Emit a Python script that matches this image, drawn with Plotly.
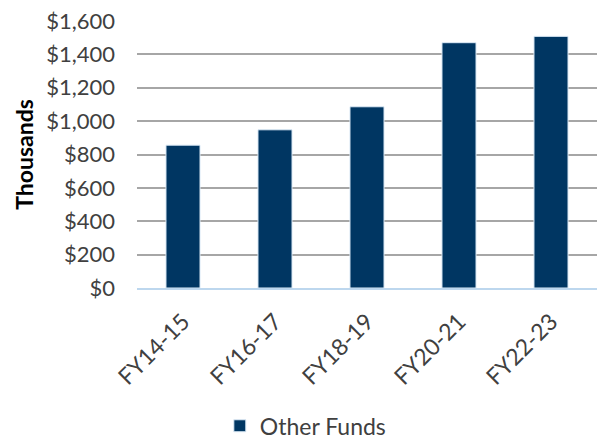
import plotly.graph_objects as go

categories = ["FY14-15", "FY16-17", "FY18-19", "FY20-21", "FY22-23"]
other_funds = [856, 948, 1086, 1470, 1508]
y_ticks = [0, 200, 400, 600, 800, 1000, 1200, 1400, 1600]
y_tick_labels = ["$0", "$200", "$400", "$600", "$800", "$1,000", "$1,200", "$1,400", "$1,600"]

FONT = "Lato, 'Open Sans', sans-serif"
TEXT = "#404040"
FS = 23

fig = go.Figure()
fig.add_trace(go.Bar(
    x=categories,
    y=other_funds,
    name="Other Funds",
    marker=dict(color="#003662", line=dict(color="#DDEBF7", width=1)),
    width=0.37,
))

fig.update_layout(
    width=598,
    height=439,
    margin=dict(l=137, r=1, t=21, b=151),
    paper_bgcolor="white",
    plot_bgcolor="white",
    font=dict(family=FONT, size=FS, color=TEXT),
    showlegend=True,
    legend=dict(
        orientation="h",
        x=0.367, xanchor="center",
        yref="container",
        y=0.03, yanchor="middle",
        font=dict(size=FS, color=TEXT),
    ),
    bargap=0.63,
)

fig.update_xaxes(
    tickangle=-45,
    tickfont=dict(size=FS, color=TEXT),
    ticklabelstandoff=9,
    showgrid=False,
    showline=True,
    linecolor="#BDD7EE",
    linewidth=2,
    ticks="",
    automargin=False,
)

fig.update_yaxes(
    range=[0, 1600],
    tickvals=y_ticks,
    ticktext=y_tick_labels,
    tickfont=dict(size=22, color=TEXT),
    ticklabelstandoff=21,
    showgrid=True,
    gridcolor="#A6A6A6",
    gridwidth=2,
    zeroline=False,
    title=dict(text="<b>Thousands</b>", font=dict(size=FS, color="#000000"), standoff=6),
    ticks="",
    automargin=False,
)

fig.write_html("out.html")
